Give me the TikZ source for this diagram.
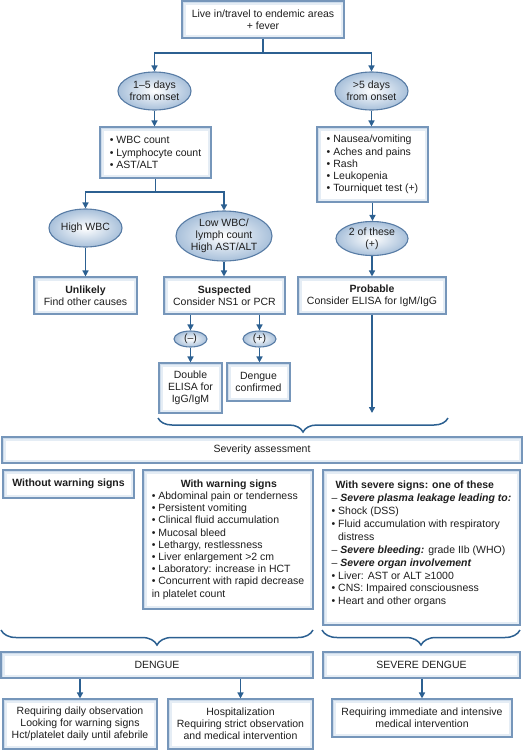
\documentclass[tikz,border=0pt]{standalone}
\usepackage{fontspec}
\setmainfont{Liberation Sans}
\usetikzlibrary{arrows.meta,decorations.pathreplacing,shapes.geometric}
\definecolor{boxline}{RGB}{118,150,186}
\definecolor{boxglow}{RGB}{204,219,235}
\definecolor{boxglowb}{RGB}{229,237,245}
\definecolor{ellline}{RGB}{88,124,165}
\definecolor{ellfill}{RGB}{168,192,218}
\definecolor{conncol}{RGB}{44,96,145}
\definecolor{txt}{RGB}{30,30,30}
\begin{document}
\begin{tikzpicture}[x=1pt,y=-1pt,
  every node/.style={font=\fontsize{10.5}{12.2}\selectfont, text=txt},
  box/.style={draw=boxline, line width=1.1pt, fill=boxglow, inner sep=2pt, align=center,
     path picture={
       \fill[boxglowb] ([shift={(1.5pt,1.5pt)}]path picture bounding box.south west) rectangle ([shift={(-1.5pt,-1.5pt)}]path picture bounding box.north east);
       \fill[white] ([shift={(3.5pt,3.5pt)}]path picture bounding box.south west) rectangle ([shift={(-3.5pt,-3.5pt)}]path picture bounding box.north east);}},
  ell/.style={ellipse, draw=ellline, line width=1.1pt, inner color=white, outer color=ellfill, inner sep=0pt, align=center},
  conn/.style={draw=conncol, line width=1.5pt},
  arr/.style={conn, -{Triangle[width=6pt,length=6pt]}},
  brc/.style={conn, decorate, decoration={brace, mirror, amplitude=14pt}},
]
\useasboundingbox (0,0) rectangle (530,750);

% top
\node[box, minimum width=162pt, minimum height=37pt] (top) at (263,19.5) {Live in/travel to endemic areas\\+ fever};
\node[ell, minimum width=73pt, minimum height=38pt] (e1) at (154.5,91) {1–5 days\\from onset};
\node[ell, minimum width=73pt, minimum height=38pt] (e2) at (371.5,91) {>5 days\\from onset};
\coordinate (j1) at (263,53);
\draw[conn] (top.south) -- (j1);
\draw[arr] (j1) -| (e1.north);
\draw[arr] (j1) -| (e2.north);

% second row
\node[box, align=left, minimum width=111pt, minimum height=51pt] (wbc) at (155.5,152.5) {• WBC count\\• Lymphocyte count\\• AST/ALT};
\node[box, align=left, minimum width=111pt, minimum height=75pt] (sym) at (372.5,164.5) {• Nausea/vomiting\\• Aches and pains\\• Rash\\• Leukopenia\\• Tourniquet test (+)};
\draw[arr] (e1.south) -- (e1.south |- wbc.north);
\draw[arr] (e2.south) -- (e2.south |- sym.north);

\coordinate (j2) at (155.5,192);
\node[ell, minimum width=73pt, minimum height=38pt] (hw) at (85.5,228) {High WBC};
\node[ell, minimum width=96pt, minimum height=50pt] (lw) at (224,236) {Low WBC/\\lymph count\\High AST/ALT};
\node[ell, minimum width=72pt, minimum height=34pt] (two) at (372,238.5) {2 of these\\(+)};
\draw[conn] (wbc.south) -- (j2);
\draw[arr] (j2) -| (hw.north);
\draw[arr] (j2) -| (lw.north);
\draw[arr] (sym.south) -- (sym.south |- two.north);

\node[box, minimum width=103pt, minimum height=37pt] (unl) at (85.5,295.5) {\textbf{Unlikely}\\Find other causes};
\node[box, minimum width=121pt, minimum height=37pt] (sus) at (224.5,295.5) {\textbf{Suspected}\\Consider NS1 or PCR};
\node[box, minimum width=148pt, minimum height=37pt] (prob) at (372,295.5) {\textbf{Probable}\\Consider ELISA for IgM/IgG};
\draw[arr] (hw.south) -- (hw.south |- unl.north);
\draw[arr] (lw.south) -- (lw.south |- sus.north);
\draw[arr] (two.south) -- (two.south |- prob.north);

\node[ell, minimum width=33pt, minimum height=16pt] (neg) at (190.5,339) {(–)};
\node[ell, minimum width=33pt, minimum height=16pt] (pos) at (259.5,339) {(+)};
\draw[arr] (neg.north |- sus.south) -- (neg.north);
\draw[arr] (pos.north |- sus.south) -- (pos.north);
\node[box, minimum width=63pt, minimum height=50pt] (dbl) at (190.5,388) {Double\\ELISA for\\IgG/IgM};
\node[box, minimum width=63pt, minimum height=38pt] (conf) at (258.5,382) {Dengue\\confirmed};
\draw[arr] (neg.south) -- (neg.south |- dbl.north);
\draw[arr] (pos.south) -- (pos.south |- conf.north);
\coordinate (pe) at (372,413);
\draw[arr] (prob.south) -- (pe);

\coordinate (b1l) at (158,418);
\coordinate (b1r) at (448,418);
\draw[brc] (b1l) -- (b1r);

% severity
\node[box, minimum width=520pt, minimum height=26pt] (sev) at (262,450) {Severity assessment};

\node[box, minimum width=131pt, minimum height=28pt] (wo) at (68.5,484) {\textbf{Without warning signs}};
\node[box, align=left, minimum width=170pt, minimum height=139pt] (ww) at (228,539.5) {\hspace*{29pt}\textbf{With warning signs}\\• Abdominal pain or tenderness\\• Persistent vomiting\\• Clinical fluid accumulation\\• Mucosal bleed\\• Lethargy, restlessness\\• Liver enlargement >2 cm\\• Laboratory: increase in HCT\\• Concurrent with rapid decrease\\in platelet count};
\node[box, align=left, minimum width=197pt, minimum height=155pt, font=\fontsize{10.5}{12.9}\selectfont] (ws) at (421.5,547.5) {\hspace*{4pt}\textbf{With severe signs: one of these}\\– \textbf{\textit{Severe plasma leakage leading to:}}\\• Shock (DSS)\\• Fluid accumulation with respiratory\\\hspace*{6.5pt}distress\\– \textbf{\textit{Severe bleeding:}} grade IIb (WHO)\\– \textbf{\textit{Severe organ involvement}}\\• Liver: AST or ALT ≥1000\\• CNS: Impaired consciousness\\• Heart and other organs\rule[-9pt]{0pt}{9pt}};

\coordinate (b2l) at (1,630);
\coordinate (b2r) at (313,630);
\coordinate (b3l) at (322,630);
\coordinate (b3r) at (520,630);
\draw[brc, decoration={brace, mirror, amplitude=15pt}] (b2l) -- (b2r);
\draw[brc, decoration={brace, mirror, amplitude=15pt}] (b3l) -- (b3r);

\node[box, minimum width=312pt, minimum height=26pt] (den) at (157,665) {DENGUE};
\node[box, minimum width=197pt, minimum height=26pt] (sden) at (421.5,665) {SEVERE DENGUE};
\node[box, minimum width=154pt, minimum height=50pt] (o1) at (80,724) {Requiring daily observation\\Looking for warning signs\\Hct/platelet daily until afebrile};
\node[box, minimum width=145pt, minimum height=50pt] (o2) at (240.5,724) {Hospitalization\\Requiring strict observation\\and medical intervention};
\node[box, minimum width=180pt, minimum height=38pt] (o3) at (422,718) {Requiring immediate and intensive\\medical intervention};
\draw[arr] (o1.north |- den.south) -- (o1.north);
\draw[arr] (o2.north |- den.south) -- (o2.north);
\draw[arr] (o3.north |- sden.south) -- (o3.north);
\end{tikzpicture}
\end{document}
